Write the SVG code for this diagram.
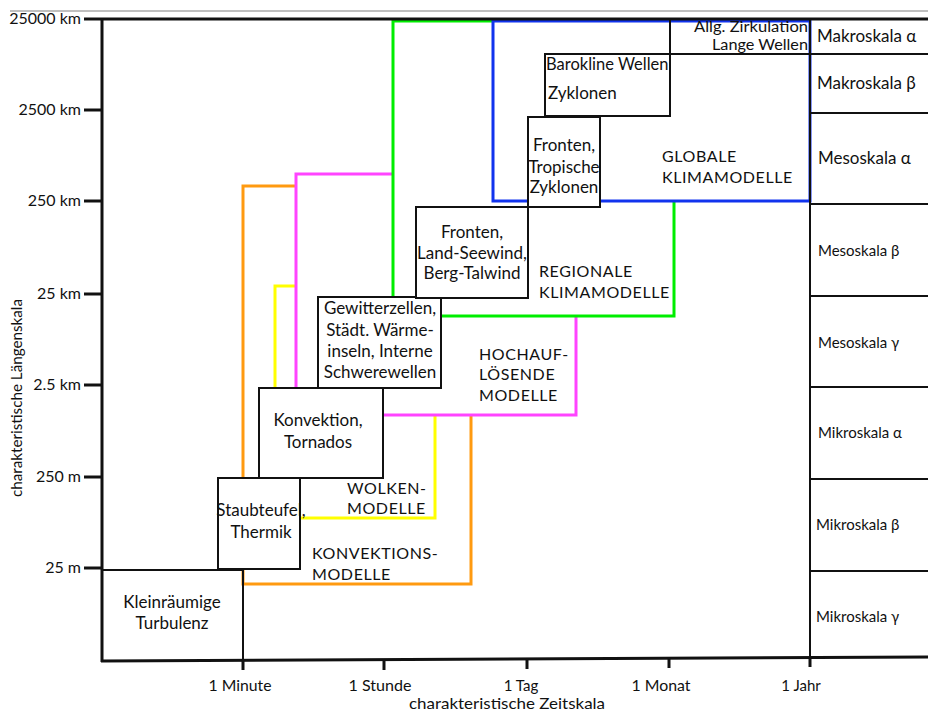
<svg xmlns="http://www.w3.org/2000/svg" width="928" height="712" viewBox="0 0 928 712">
<style>
text{font-family:Lato,"Open Sans","Liberation Sans",sans-serif;font-size:17px;fill:#111}
.m{text-anchor:middle}
.e{text-anchor:end}
.s{font-size:15px}
.a{font-size:16px}
.z{font-size:15.5px}
.c{font-size:16px;letter-spacing:0.6px}
.box{fill:#fff;stroke:#111;stroke-width:2}
.ax{stroke:#111;stroke-width:3;fill:none}
.ln{stroke:#111;stroke-width:2;fill:none}
.mod{fill:#fff;stroke-width:3}
</style>
<rect width="928" height="712" fill="#fff"/>
<line x1="10" y1="11" x2="928" y2="11" stroke="#aaa" stroke-width="1.5"/>

<g id="konvektionsmodelle"><rect class="mod" x="243" y="186" width="228" height="398" stroke="#ff9a10"/><text class="c" x="312" y="559">KONVEKTIONS-</text><text class="c" x="312" y="580">MODELLE</text></g>
<g id="wolkenmodelle"><rect class="mod" x="275" y="286" width="160" height="232" stroke="#ffff00"/><text class="c" x="347" y="494">WOLKEN-</text><text class="c" x="347" y="514">MODELLE</text></g>
<g id="hochaufloesende"><rect class="mod" x="296" y="174" width="280" height="241" stroke="#ff44ff"/><text class="c" x="479" y="360">HOCHAUF-</text><text class="c" x="479" y="380">LÖSENDE</text><text class="c" x="479" y="401">MODELLE</text></g>
<g id="regionale"><rect class="mod" x="393" y="21" width="281" height="295" stroke="#00ee00"/><text class="c" x="539" y="277">REGIONALE</text><text class="c" x="539" y="298">KLIMAMODELLE</text></g>
<g id="globale"><rect class="mod" x="493" y="21" width="317" height="180" stroke="#1133ee"/><text class="c" x="662" y="162">GLOBALE</text><text class="c" x="662" y="183">KLIMAMODELLE</text></g>

<g id="connectors">
<line class="ax" x1="102" y1="19" x2="928" y2="19"/>
<line class="ax" x1="102" y1="19" x2="102" y2="662"/>
<line class="ax" x1="101" y1="661" x2="928" y2="657"/>
<g class="ax">
<line x1="84" y1="19" x2="102" y2="19"/>
<line x1="84" y1="110" x2="102" y2="110"/>
<line x1="84" y1="201" x2="102" y2="201"/>
<line x1="84" y1="294" x2="102" y2="294"/>
<line x1="84" y1="385" x2="102" y2="385"/>
<line x1="84" y1="477" x2="102" y2="477"/>
<line x1="84" y1="568" x2="102" y2="568"/>
<line x1="243" y1="660" x2="243" y2="670"/>
<line x1="384" y1="660" x2="384" y2="670"/>
<line x1="527" y1="659" x2="527" y2="669"/>
<line x1="669" y1="658" x2="669" y2="668"/>
<line x1="810" y1="658" x2="810" y2="667"/>
</g>
<g class="ln">
<line x1="810" y1="19" x2="810" y2="659"/>
<line x1="670" y1="54" x2="928" y2="54"/>
<line x1="810" y1="113" x2="928" y2="113"/>
<line x1="810" y1="204" x2="928" y2="204"/>
<line x1="810" y1="296" x2="928" y2="296"/>
<line x1="810" y1="387" x2="928" y2="387"/>
<line x1="810" y1="479" x2="928" y2="479"/>
<line x1="810" y1="571" x2="928" y2="571"/>
</g>
</g>

<g id="axis-labels">
<text class="e a" x="81" y="24">25000 km</text>
<text class="e a" x="81" y="115">2500 km</text>
<text class="e a" x="81" y="206">250 km</text>
<text class="e a" x="81" y="299">25 km</text>
<text class="e a" x="81" y="390">2.5 km</text>
<text class="e a" x="81" y="482">250 m</text>
<text class="e a" x="81" y="573">25 m</text>
<text class="m s" x="240" y="691" textLength="63" lengthAdjust="spacingAndGlyphs">1 Minute</text>
<text class="m s" x="380" y="691" textLength="63" lengthAdjust="spacingAndGlyphs">1 Stunde</text>
<text class="m s" x="521" y="691">1 Tag</text>
<text class="m s" x="661" y="691" textLength="59" lengthAdjust="spacingAndGlyphs">1 Monat</text>
<text class="m s" x="801" y="691">1 Jahr</text>
<text class="m s" x="507" y="709" textLength="196" lengthAdjust="spacingAndGlyphs">charakteristische Zeitskala</text>
<text class="m a" transform="translate(22 398) rotate(-90)" textLength="198" lengthAdjust="spacingAndGlyphs">charakteristische Längenskala</text>
</g>

<g id="scale-labels">
<text x="817" y="42">Makroskala α</text>
<text x="817" y="89">Makroskala β</text>
<text x="818" y="164">Mesoskala α</text>
<text class="s" x="818" y="256">Mesoskala β</text>
<text class="s" x="818" y="348">Mesoskala γ</text>
<text class="s" x="818" y="438">Mikroskala α</text>
<text class="s" x="816" y="530">Mikroskala β</text>
<text class="s" x="816" y="622">Mikroskala γ</text>
</g>

<g id="turbulenz"><path class="ln" d="M102 570 H243 V661"/><text class="m" x="172" y="608">Kleinräumige</text><text class="m" x="172" y="629">Turbulenz</text></g>
<g id="staubteufel"><rect class="box" x="218" y="478" width="82" height="91"/><text class="m" x="261" y="516">Staubteufel,</text><text class="m" x="261" y="538">Thermik</text></g>
<g id="konvektion"><rect class="box" x="259" y="388" width="124" height="90"/><text class="m" x="318" y="426">Konvektion,</text><text class="m" x="318" y="448">Tornados</text></g>
<g id="gewitterzellen"><rect class="box" x="318" y="297" width="123" height="91"/><text class="m" x="380" y="314">Gewitterzellen,</text><text class="m" x="380" y="336">Städt. Wärme-</text><text class="m" x="380" y="357">inseln, Interne</text><text class="m" x="380" y="378">Schwerewellen</text></g>
<g id="landseewind"><rect class="box" x="416" y="207" width="112" height="91"/><text class="m" x="472" y="238">Fronten,</text><text class="m" x="472" y="259">Land-Seewind,</text><text class="m" x="472" y="279">Berg-Talwind</text></g>
<g id="tropische"><rect class="box" x="528" y="117" width="72" height="90"/><text class="m" x="564" y="151">Fronten,</text><text class="m" x="564" y="173">Tropische</text><text class="m" x="564" y="193">Zyklonen</text></g>
<g id="barokline"><rect class="box" x="545" y="54" width="125" height="62"/><text x="546" y="70" style="font-size:16.5px">Barokline Wellen</text><text x="548" y="99">Zyklonen</text></g>
<g id="zirkulation"><path class="ln" d="M670 19 V54"/><text class="e z" x="808" y="32" textLength="114" lengthAdjust="spacingAndGlyphs">Allg. Zirkulation</text><text class="e z" x="808" y="50" textLength="96" lengthAdjust="spacingAndGlyphs">Lange Wellen</text></g>
</svg>
